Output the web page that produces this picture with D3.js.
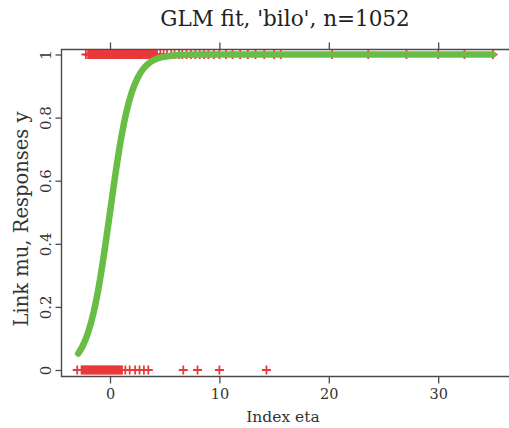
<!DOCTYPE html>
<html>
<head>
<meta charset="utf-8">
<script src="https://cdn.jsdelivr.net/npm/d3@7"></script>
<style>
  html, body { margin: 0; padding: 0; background: #fff; }
  svg { display: block; }
</style>
</head>
<body>
<svg id="chart" width="509" height="428"></svg>
<script>
// Axis ticks
const xTicks = [0, 10, 20, 30];
const yTicks = [0, 0.2, 0.4, 0.6, 0.8, 1];
const yTickLabels = ["0", "0.2", "0.4", "0.6", "0.8", "1"];

// Observations with response y = 0 (linear predictor eta)
const etaY0 = [
  -3.0, -2.6, -2.5, -2.4, -2.3, -2.2, -2.1, -2.0, -1.9, -1.8, -1.7, -1.6, -1.5,
  -1.4, -1.3, -1.2, -1.1, -1.0, -0.9, -0.8, -0.7, -0.6, -0.5, -0.4, -0.3, -0.2,
  -0.1, 0.0, 0.1, 0.2, 0.3, 0.4, 0.5, 0.6, 0.7, 0.8, 0.9, 1.0, 1.1,
  1.4, 1.8, 2.3, 2.7, 3.1, 3.5, 6.7, 8.0, 10.0, 14.3
];

// Observations with response y = 1
const etaY1 = [
  -2.2, -2.0, -1.9, -1.8, -1.7, -1.6, -1.5, -1.4, -1.3, -1.2, -1.1, -1.0, -0.9,
  -0.8, -0.7, -0.6, -0.5, -0.4, -0.3, -0.2, -0.1, 0.0, 0.1, 0.2, 0.3, 0.4, 0.5,
  0.6, 0.7, 0.8, 0.9, 1.0, 1.1, 1.2, 1.3, 1.4, 1.5, 1.6, 1.7, 1.8, 1.9, 2.0,
  2.1, 2.2, 2.3, 2.4, 2.5, 2.6, 2.7, 2.8, 2.9, 3.0, 3.1, 3.2, 3.3, 3.4, 3.5,
  3.6, 3.7, 3.8, 3.9, 4.0, 4.1, 4.2, 4.3, 4.6, 4.9, 5.2, 5.6, 5.9, 6.3, 6.6,
  7.0, 7.4, 7.8, 8.2, 8.6, 9.0, 9.5, 10.0, 10.6, 11.2, 11.9, 12.6, 13.3, 14.1,
  15.0, 15.6, 20.3, 23.6, 27.1, 30.0, 32.4, 35.0
];

// Fitted mean mu along eta
const fitEta = [-2.9, -2.5, -2.0, -1.5, -1.0, -0.5, 0.0, 0.5, 1.0, 1.5, 2.0, 2.5,
  3.0, 3.5, 4.0, 4.5, 5.0, 6.0, 8.0, 10.0, 15.0, 20.0, 25.0, 30.0, 35.0];
const fitMu = [0.052, 0.076, 0.119, 0.182, 0.269, 0.378, 0.5, 0.622, 0.731, 0.818,
  0.881, 0.924, 0.953, 0.971, 0.982, 0.989, 0.993, 0.998, 1.0, 1.0, 1.0, 1.0, 1.0, 1.0, 1.0];

const svg = d3.select("#chart");
const frame = { left: 61.5, top: 49.5, right: 512, bottom: 376.5 };

const x = d3.scaleLinear().domain([0, 10]).range([110, 219.4]);
const y = d3.scaleLinear().domain([0, 1]).range([370, 54.5]);

const axisColor = "#4a4a4a";
const serif = "'DejaVu Serif', serif";

// Title
svg.append("text")
  .attr("x", 285).attr("y", 26)
  .attr("text-anchor", "middle")
  .attr("font-family", serif)
  .attr("font-size", 21.5)
  .attr("fill", "#222")
  .text("GLM fit, 'bilo', n=1052");

// Bottom axis
const xAxis = d3.axisBottom(x).tickValues(xTicks).tickSize(7).tickSizeOuter(0).tickPadding(5)
  .tickFormat(d3.format("d"));
const gx = svg.append("g").attr("transform", `translate(0,${frame.bottom})`).call(xAxis);
gx.select(".domain").remove();
gx.selectAll("line").attr("stroke", axisColor).attr("stroke-width", 1.3);
gx.selectAll("text").attr("font-family", serif).attr("font-size", 14.5).attr("fill", "#333");

// Top axis (tick marks only)
const xAxisTop = d3.axisTop(x).tickValues(xTicks).tickSize(7).tickSizeOuter(0).tickFormat("");
const gt = svg.append("g").attr("transform", `translate(0,${frame.top})`).call(xAxisTop);
gt.select(".domain").remove();
gt.selectAll("line").attr("stroke", axisColor).attr("stroke-width", 1.3);

// Left axis with rotated labels
const yAxis = d3.axisLeft(y).tickValues(yTicks).tickSize(6).tickSizeOuter(0)
  .tickFormat((d, i) => yTickLabels[i]);
const gy = svg.append("g").attr("transform", `translate(${frame.left},0)`).call(yAxis);
gy.select(".domain").remove();
gy.selectAll("line").attr("stroke", axisColor).attr("stroke-width", 1.3);
gy.selectAll("text")
  .attr("font-family", serif).attr("font-size", 15).attr("fill", "#333")
  .attr("text-anchor", "middle")
  .attr("x", 0).attr("dy", 0)
  .attr("transform", "translate(-11,0) rotate(-90)");

// Plot frame
svg.append("path")
  .attr("d", `M${frame.right},${frame.top}H${frame.left}V${frame.bottom}H${frame.right}`)
  .attr("fill", "none").attr("stroke", axisColor).attr("stroke-width", 1.4);

// Axis titles
svg.append("text")
  .attr("x", 283).attr("y", 422)
  .attr("text-anchor", "middle")
  .attr("font-family", serif).attr("font-size", 15.5).attr("fill", "#333")
  .text("Index eta");
svg.append("text")
  .attr("transform", "translate(28,219) rotate(-90)")
  .attr("text-anchor", "middle")
  .attr("font-family", serif).attr("font-size", 19.5).attr("fill", "#333")
  .text("Link mu, Responses y");

// Response markers drawn as plus signs
const plusColor = "#e8393b";
const arm = 4.5;
function pluses(data, yv) {
  svg.append("g").selectAll("path").data(data).join("path")
    .attr("d", d => {
      const cx = x(d), cy = y(yv);
      return `M${cx - arm},${cy}H${cx + arm}M${cx},${cy - arm}V${cy + arm}`;
    })
    .attr("stroke", plusColor).attr("stroke-width", 1.8).attr("fill", "none");
}
pluses(etaY0, 0);
pluses(etaY1, 1);

// Fitted curve
const line = d3.line().x(d => x(d[0])).y(d => y(d[1])).curve(d3.curveMonotoneX);
svg.append("path")
  .datum(fitEta.map((e, i) => [e, fitMu[i]]))
  .attr("d", line)
  .attr("fill", "none")
  .attr("stroke", "#68bd45")
  .attr("stroke-width", 6.5)
  .attr("stroke-linecap", "round")
  .attr("stroke-linejoin", "round");
</script>
</body>
</html>
